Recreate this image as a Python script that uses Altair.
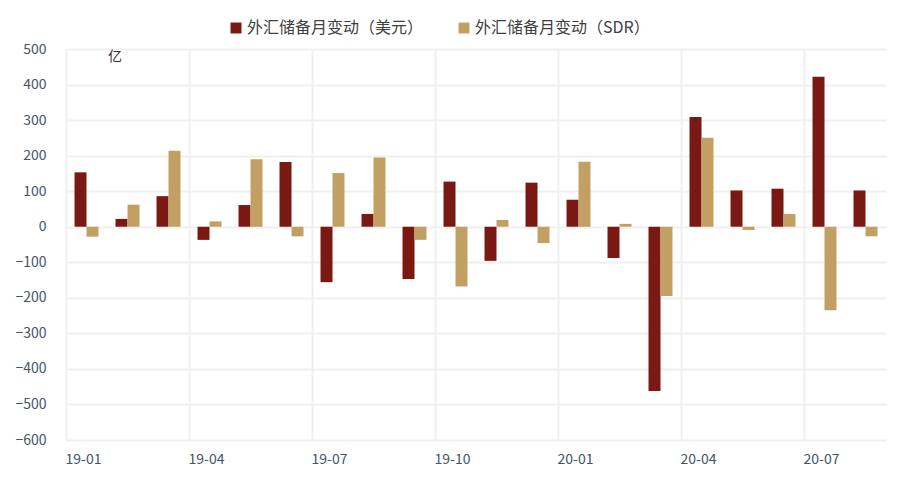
import altair as alt
import pandas as pd

months = ["19-01", "19-02", "19-03", "19-04", "19-05", "19-06", "19-07", "19-08", "19-09", "19-10",
          "19-11", "19-12", "20-01", "20-02", "20-03", "20-04", "20-05", "20-06", "20-07", "20-08"]
usd = [153, 22, 86, -37, 61, 182, -156, 36, -147, 127, -96, 124, 76, -88, -462, 309, 102, 107, 422, 102]
sdr = [-28, 62, 214, 15, 190, -27, 151, 195, -37, -168, 19, -46, 183, 8, -195, 250, -9, 36, -235, -27]
series = ["外汇储备月变动（美元）", "外汇储备月变动（SDR）"]
colors = ["#7A1913", "#C2A063"]
tick_months = ["19-01", "19-04", "19-07", "19-10", "20-01", "20-04", "20-07"]
y_ticks = [500, 400, 300, 200, 100, 0, -100, -200, -300, -400, -500, -600]

rows = []
for m, u, s in zip(months, usd, sdr):
    rows.append({"month": m, "series": series[0], "value": u})
    rows.append({"month": m, "series": series[1], "value": s})
df = pd.DataFrame(rows)

FONT = "Noto Sans CJK SC"

bars = alt.Chart(df).mark_bar().encode(
    x=alt.X("month:N", sort=months,
            scale=alt.Scale(paddingInner=0, paddingOuter=0),
            axis=alt.Axis(values=tick_months, bandPosition=0, labelAlign="left", labelAngle=0,
                          labelOffset=-21,
                          grid=True, gridColor="#F0F0F0", gridWidth=2, ticks=False, domain=False,
                          title=None, labelFont=FONT, labelFontSize=14, labelColor="#44546A",
                          labelPadding=12)),
    xOffset=alt.XOffset("series:N", sort=series,
                        scale=alt.Scale(paddingInner=0, paddingOuter=0.71)),
    y=alt.Y("value:Q",
            scale=alt.Scale(domain=[-600, 500], nice=False),
            axis=alt.Axis(values=y_ticks, grid=True, gridColor="#F0F0F0", gridWidth=2,
                          ticks=False, domain=False, title=None, labelFont=FONT,
                          labelFontSize=14, labelColor="#44546A", labelPadding=20)),
    color=alt.Color("series:N", sort=series,
                    scale=alt.Scale(domain=series, range=colors),
                    legend=alt.Legend(title=None, orient="none", direction="horizontal",
                                      legendX=162, legendY=-29, symbolType="square",
                                      symbolSize=120, symbolStrokeWidth=0,
                                      labelFont=FONT, labelFontSize=16, labelColor="#404040",
                                      labelLimit=400, columnPadding=32, labelOffset=3)),
)

unit = alt.Chart(pd.DataFrame({"t": ["亿"]})).mark_text(
    font=FONT, fontSize=14, color="#333333"
).encode(x=alt.value(49), y=alt.value(8), text="t:N")

chart = alt.layer(bars, unit).properties(
    width=820, height=391,
    autosize=alt.AutoSizeParams(type="none"),
    padding={"left": 66, "top": 49, "right": 18, "bottom": 48},
).configure_view(stroke=None)

chart.save("out.html", embed_options={"renderer": "svg", "actions": False})
